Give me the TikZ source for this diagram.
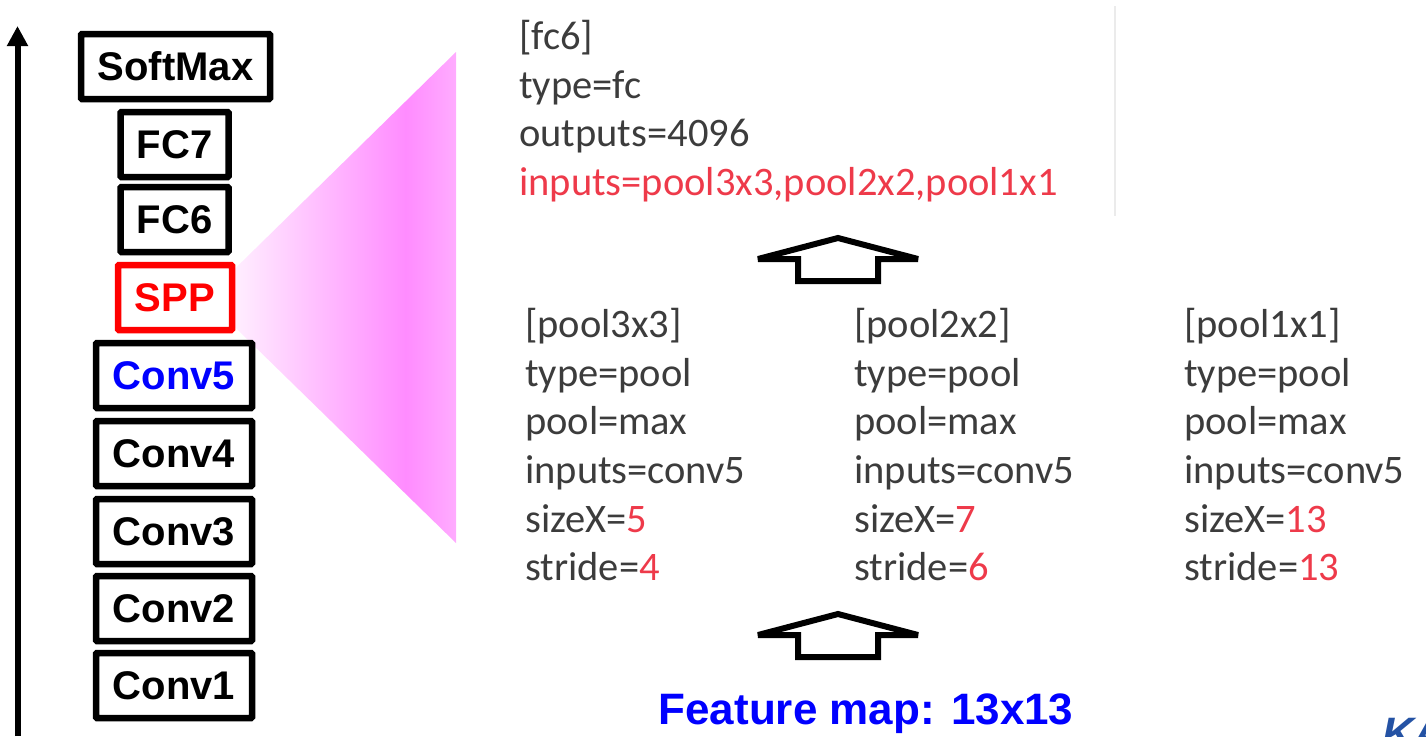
\documentclass[tikz,border=0pt]{standalone}
\usepackage{fontspec}
\setmainfont{Liberation Sans}
\newfontfamily\cfgfont{Carlito}
\usepackage{xcolor}
\definecolor{cfgtext}{HTML}{3C3C3C}
\definecolor{cfgred}{HTML}{EE3A4A}
\definecolor{fanpink}{HTML}{FF8CFF}
\definecolor{fanend}{HTML}{FFACFF}
\definecolor{logoblue}{HTML}{2452A4}
\usepackage{tikz}
\usetikzlibrary{arrows.meta,positioning}
\pgfdeclarehorizontalshading{sppfan}{100bp}{color(0bp)=(white); color(25bp)=(white); color(65bp)=(fanpink); color(75bp)=(fanend); color(100bp)=(fanend)}

\begin{document}
\begin{tikzpicture}[x=1pt, y=-1pt,
  layerbox/.style={draw=black, fill=white, line width=6.5pt, rounded corners=1pt, minimum height=65pt,
    inner sep=0pt, font=\fontsize{40}{46}\bfseries\selectfont},
  cfgblock/.style={anchor=north west, align=left, inner sep=0pt, text=cfgtext,
    font=\cfgfont\fontsize{40.5}{48.7}\selectfont},
  hollowarrow/.style={draw=black, line width=6pt, miter limit=2, fill=white}]
\useasboundingbox (0,0) rectangle (1426,736);
\shade[shading=sppfan] (205,298) -- (456,52) -- (456,543) -- cycle;
% axis at the far left
\coordinate (axisbottom) at (17.5,736);
\coordinate (axistop) at (17.5,26);
\draw[-{Triangle[length=20pt, width=20pt]}, line width=6pt] (axisbottom) -- (axistop);
% layer stack
\node[layerbox, minimum width=189pt] (softmax) at (175.5,66.5) {SoftMax};
\node[layerbox, minimum width=108pt] (fc7) at (174.5,144.5) {FC7};
\node[layerbox, minimum width=108pt] (fc6) at (174.5,219.5) {FC6};
\node[layerbox, minimum width=114pt, draw=red, text=red] (spp) at (175,297.5) {SPP};
\node[layerbox, minimum width=156pt, text=blue] (conv5) at (174,375.5) {Conv5};
\node[layerbox, minimum width=156pt] (conv4) at (174,453.5) {Conv4};
\node[layerbox, minimum width=156pt] (conv3) at (174,531.5) {Conv3};
\node[layerbox, minimum width=156pt] (conv2) at (174,608.5) {Conv2};
\node[layerbox, minimum width=156pt] (conv1) at (174,685.5) {Conv1};
% config text
\node[cfgblock] (fcblock) at (519,20) {[fc6]\\type=fc\\outputs=4096\\\textcolor{cfgred}{inputs=pool3x3,pool2x2,pool1x1}};
\node[cfgblock] (poolc) at (525,308) {[pool3x3]\\type=pool\\pool=max\\inputs=conv5\\sizeX=\textcolor{cfgred}{5}\\stride=\textcolor{cfgred}{4}};
\node[cfgblock] (poolb) at (854,308) {[pool2x2]\\type=pool\\pool=max\\inputs=conv5\\sizeX=\textcolor{cfgred}{7}\\stride=\textcolor{cfgred}{6}};
\node[cfgblock] (poola) at (1184,308) {[pool1x1]\\type=pool\\pool=max\\inputs=conv5\\sizeX=\textcolor{cfgred}{13}\\stride=\textcolor{cfgred}{13}};
\coordinate (rulebottom) at (1115,216);
\coordinate (ruletop) at (1115,6);
\draw[black!8, line width=1.2pt] (rulebottom) -- (ruletop);
% hollow arrows
\foreach \ay in {0,-376}{
  \draw[hollowarrow, shift={(0,\ay)}] (838,614) -- (918,635) -- (878,635) -- (878,657) -- (798,657) -- (798,635) -- (758,635) -- cycle;
}
\node[text=blue, inner sep=0pt, font=\fontsize{44}{50}\bfseries\selectfont] (fmap) at (866,714) {Feature map: 13x13};
\begin{scope}
\clip (1346,696) rectangle (1426,736);
\node[anchor=base west, inner sep=0pt, text=logoblue, font=\fontsize{44}{50}\bfseries\itshape\selectfont] (logo) at (1382,748) {KA};
\end{scope}
\end{tikzpicture}
\end{document}
